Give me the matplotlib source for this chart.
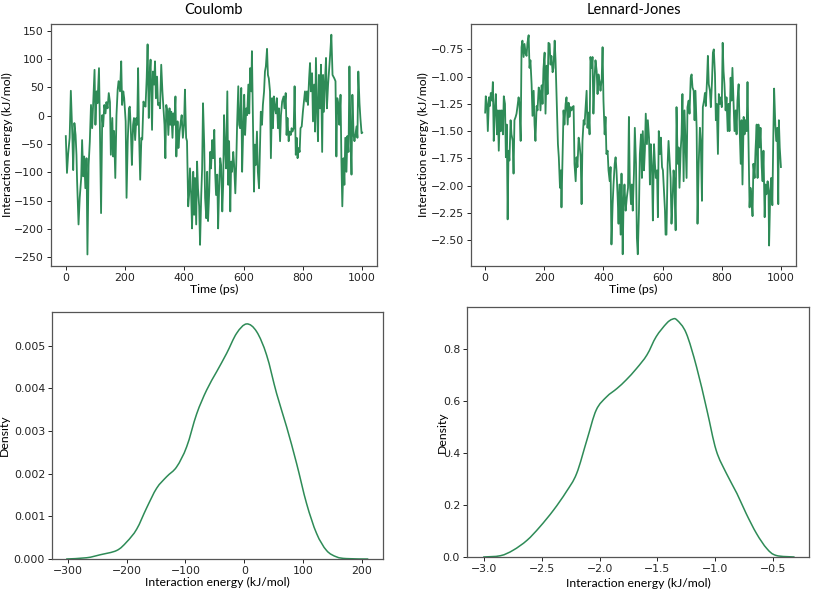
import matplotlib
matplotlib.use("Agg")
import matplotlib.pyplot as plt
from matplotlib.path import Path
from matplotlib.patches import PathPatch

# ---------------- data ----------------
coul_t = [0,4,8,13,17,22,25,29,33,36,38,43,47,52,55,59,62,66,70,73,77,81,85,89,92,97,100,104,107,112,115,119,123,126,130,134,137,141,145,149,152,157,160,163,167,171,175,178,183,187,190,194,197,202,205,209,213,216,220,223,227,230,234,238,241,
          244,247,251,255,258,262,266,269,273,276,280,283,286,291,294,298,301,304,308,311,315,318,322,326,329,333,336,339,343,346,350,353,356,360,363,366,370,373,377,380,384,388,391,395,399,402,406,409,413,416,419,423,426,430,433,436,440,443,446,450,453,457,460,463,467,470,474,477,
          480,484,487,490,494,497,501,504,507,511,514,517,521,524,528,531,534,538,541,545,548,551,555,558,561,565,568,572,575,578,582,585,588,592,595,599,602,605,609,612,616,619,622,626,628,631,635,638,641,645,648,652,655,658,662,665,669,672,675,679,682,685,689,692,696,699,702,706,709,712,716,719,723,726,
          730,735,738,742,745,748,752,755,759,762,765,769,772,776,779,782,786,789,792,796,800,804,807,811,814,817,821,824,827,831,834,838,841,844,848,851,854,858,861,865,868,871,875,878,881,885,888,892,896,900,903,906,910,913,916,920,923,927,930,933,937,940,943,947,950,954,957,960,964,967,971,974,977,981,984,987,991,994,998,1000]
coul_e = [-36,-101,-67,-39,44,-34,-96,-13,-34,-69,-113,-192,-145,-110,-43,-107,-72,-128,-75,-245,-87,-46,19,-22,16,81,-16,43,22,84,-16,-172,1,-19,19,4,24,13,40,24,-69,-4,-72,-27,-110,1,46,61,43,96,19,43,31,-10,-145,-45,13,16,-34,-87,-16,-4,-43,-4,-16,
          84,-28,-113,-39,-42,25,19,16,67,126,-4,72,99,-25,78,55,96,31,69,19,22,13,90,43,19,-16,-75,19,7,-34,13,-16,7,-39,4,-16,34,-72,-10,-57,-28,-10,1,-39,-16,46,-39,-45,-160,-140,-93,-140,-199,-99,-175,-110,-192,-81,-128,-160,-228,-140,-93,22,-51,-145,-181,-99,
          -186,-134,-64,-93,-43,-75,-25,-101,-140,-104,-199,-134,-75,-87,-169,-122,1,-64,-93,43,-122,-45,-169,-81,-99,-64,-87,-137,-87,-16,52,-16,-22,49,-99,-16,37,-34,13,1,55,4,84,43,114,7,-134,-51,-87,-28,-99,-128,-64,7,-16,19,43,78,87,118,72,66,43,-75,31,-22,34,13,4,31,-22,13,-45,1,
          25,34,13,40,-34,-4,-45,-28,-34,-22,-28,-22,52,-69,-39,-75,-57,-64,-22,-19,7,28,43,25,43,19,66,93,43,75,-10,55,-28,102,4,-45,72,13,90,-64,72,7,66,102,13,55,78,108,143,72,69,66,61,-72,31,19,-16,37,-81,-160,-75,-122,-39,-99,-36,-64,87,-16,-104,37,-34,-45,-34,-19,-39,78,22,-4,-31,-30]

lj_t = [0,2,6,9,13,16,19,23,26,29,33,36,40,43,46,50,53,56,60,63,67,70,73,76,79,82,86,89,93,96,99,103,106,109,113,116,120,123,126,130,133,137,140,143,147,150,153,157,160,164,167,170,174,177,181,184,187,191,194,197,201,204,208,211,214,218,221,224,228,231,235,238,
        242,246,249,253,256,258,262,265,268,272,275,279,282,285,289,292,295,299,302,306,309,312,316,319,323,326,329,333,336,339,343,346,350,353,356,360,363,366,370,373,377,380,383,387,390,394,397,400,404,407,410,414,417,421,424,427,431,434,438,441,444,448,451,454,458,461,465,468,471,475,
        479,483,486,489,493,496,499,503,506,510,513,516,520,523,527,530,533,537,540,543,547,550,554,557,560,564,567,571,574,577,581,584,587,591,594,598,601,604,608,610,613,617,620,623,627,630,634,637,640,644,647,651,654,657,661,664,667,671,674,678,681,684,688,691,695,698,701,705,708,711,715,718,722,
        726,729,733,736,740,743,746,750,753,756,760,763,767,770,773,777,780,783,787,790,794,797,800,803,806,809,813,816,820,823,826,830,833,836,840,843,847,850,853,857,860,864,867,870,874,877,880,884,887,891,894,897,901,904,907,911,914,918,921,924,928,931,935,938,941,945,948,951,955,958,960,964,967,971,974,977,981,984,988,991,993,996,1000]
lj_e = [-1.33,-1.18,-1.25,-1.50,-1.19,-1.27,-1.15,-1.22,-1.05,-1.59,-1.28,-1.16,-1.53,-1.31,-1.68,-1.31,-1.50,-1.31,-1.53,-1.18,-1.25,-1.74,-1.44,-2.31,-1.68,-1.77,-1.40,-1.53,-1.59,-1.89,-1.40,-1.37,-1.34,-1.28,-1.19,-1.25,-1.59,-0.73,-0.67,-0.82,-0.70,-0.79,-0.81,-0.69,-0.62,-0.92,-0.85,-1.07,-1.36,-1.13,-1.44,-1.59,-1.27,-1.31,-1.10,-1.13,-1.31,-1.08,-1.25,-0.93,-0.78,-1.34,-0.90,-1.16,-0.69,-0.70,-0.89,-0.81,-0.96,-0.92,-0.67,-0.85,
        -1.25,-1.62,-1.74,-2.02,-1.86,-2.20,-1.68,-1.31,-1.44,-1.25,-1.19,-1.44,-1.24,-1.37,-1.28,-1.31,-1.28,-1.27,-1.80,-1.96,-1.74,-1.83,-1.56,-1.62,-1.74,-2.17,-1.59,-1.40,-1.44,-1.31,-1.13,-1.47,-1.33,-1.53,-0.82,-0.92,-0.82,-1.34,-1.01,-0.85,-0.95,-1.16,-0.98,-1.05,-1.13,-1.02,-0.73,-1.22,-1.53,-1.37,-1.71,-1.68,-1.86,-1.96,-1.83,-2.54,-2.17,-1.99,-1.80,-1.74,-1.86,-2.11,-2.35,-1.99,-2.45,-1.89,-2.63,-2.14,-1.99,-2.23,
        -2.11,-2.02,-1.37,-1.96,-2.17,-1.99,-2.23,-1.89,-1.47,-1.80,-2.48,-2.63,-2.23,-1.71,-1.53,-1.93,-1.50,-1.86,-1.68,-1.34,-1.62,-1.40,-1.56,-1.99,-1.62,-1.83,-2.32,-1.62,-1.80,-1.93,-1.86,-2.29,-1.50,-1.71,-1.56,-1.83,-1.86,-2.02,-2.23,-2.45,-2.45,-1.80,-1.59,-1.74,-1.93,-2.35,-2.11,-1.86,-1.96,-2.41,-1.28,-1.80,-1.65,-2.02,-1.68,-1.53,-1.16,-1.96,-1.31,-1.65,-1.93,-1.28,-1.22,-1.34,-1.01,-0.98,-1.10,-1.13,-1.40,-1.13,-1.47,-2.35,-1.80,
        -1.47,-1.59,-2.14,-1.28,-1.22,-1.15,-1.27,-1.04,-0.81,-1.07,-1.13,-1.28,-1.04,-0.78,-0.75,-0.98,-1.40,-1.25,-1.71,-1.16,-1.25,-1.19,-1.28,-0.69,-0.95,-1.07,-1.31,-1.19,-1.50,-1.25,-1.50,-1.01,-1.22,-0.92,-1.25,-1.50,-1.31,-1.53,-1.22,-1.07,-1.44,-1.80,-1.40,-1.99,-1.37,-1.53,-1.40,-1.50,-1.05,-1.68,-2.20,-2.02,-2.11,-2.28,-1.80,-1.93,-1.68,-1.44,-1.93,-1.44,-1.65,-1.47,-1.83,-1.96,-1.68,-2.29,-1.99,-2.08,-1.96,-2.05,-2.55,-2.05,-1.93,-2.18,-1.59,-1.11,-1.44,-1.59,-1.47,-2.17,-1.40,-1.65,-1.83]

coul_kde_x = [-303,-268,-245,-217,-200,-183,-166,-149,-132,-115,-98,-81,-64,-47,-30,-13,4,21,38,55,72,89,106,123,140,157,174,211]
coul_kde_y = [0.0,0.00003,0.0001,0.0002,0.0004,0.0007,0.0012,0.00166,0.00193,0.00216,0.00263,0.0034,0.00396,0.00439,0.00482,0.00529,0.00551,0.00533,0.00478,0.00388,0.0031,0.00224,0.0013,0.0006,0.0002,0.00005,0.00001,0.0]

lj_kde_x = [-3.01,-2.86,-2.75,-2.63,-2.52,-2.40,-2.29,-2.20,-2.11,-2.03,-1.94,-1.85,-1.77,-1.68,-1.59,-1.51,-1.42,-1.37,-1.33,-1.25,-1.16,-1.07,-0.99,-0.90,-0.81,-0.73,-0.64,-0.55,-0.47,-0.31]
lj_kde_y = [0.0,0.005,0.026,0.064,0.115,0.18,0.25,0.32,0.45,0.564,0.615,0.647,0.68,0.724,0.776,0.846,0.897,0.913,0.91,0.86,0.73,0.564,0.41,0.32,0.244,0.167,0.09,0.032,0.006,0.0]

titles = ["Coulomb", "Lennard-Jones"]
time_label = "Time (ps)"
energy_label = "Interaction energy (kJ/mol)"
density_label = "Density"

# ---------------- helpers ----------------
GREEN = "#2e8b57"
LABEL_FONT = ["Lato", "DejaVu Sans"]


def smooth_curve(ax, xs, ys, **kw):
    """Draw a smooth (Catmull-Rom style Bezier) line through the read points."""
    verts = [(xs[0], ys[0])]
    codes = [Path.MOVETO]
    n = len(xs)
    for i in range(n - 1):
        x0, y0 = (xs[i - 1], ys[i - 1]) if i > 0 else (xs[i], ys[i])
        x1, y1 = xs[i], ys[i]
        x2, y2 = xs[i + 1], ys[i + 1]
        x3, y3 = (xs[i + 2], ys[i + 2]) if i + 2 < n else (xs[i + 1], ys[i + 1])
        c1 = (x1 + (x2 - x0) / 6.0, y1 + (y2 - y0) / 6.0)
        c2 = (x2 - (x3 - x1) / 6.0, y2 - (y3 - y1) / 6.0)
        verts += [c1, c2, (x2, y2)]
        codes += [Path.CURVE4, Path.CURVE4, Path.CURVE4]
    ax.add_patch(PathPatch(Path(verts, codes), facecolor="none", **kw))


# ---------------- figure ----------------
fig = plt.figure(figsize=(8.13, 5.93), dpi=100)

ax_tl = fig.add_axes([0.0627, 0.5514, 0.401, 0.408])
ax_tr = fig.add_axes([0.5793, 0.5514, 0.3998, 0.408])
ax_bl = fig.add_axes([0.064, 0.0573, 0.4071, 0.4166])
ax_br = fig.add_axes([0.5744, 0.0607, 0.4207, 0.4216])

for ax in (ax_tl, ax_tr, ax_bl, ax_br):
    for s in ax.spines.values():
        s.set_color("#555555")
        s.set_linewidth(0.9)
    ax.tick_params(labelsize=7.8, length=3, width=0.7, colors="#222222", pad=2)

ax_tl.plot(coul_t, coul_e, color=GREEN, lw=1.3)
ax_tl.set_xlim(-50, 1050)
ax_tl.set_ylim(-265.4, 161.8)
ax_tl.set_xticks([0, 200, 400, 600, 800, 1000])
ax_tl.set_yticks([-250, -200, -150, -100, -50, 0, 50, 100, 150])
ax_tl.set_xlabel(time_label, fontsize=8.8, family=LABEL_FONT, labelpad=1)
ax_tl.set_ylabel(energy_label, fontsize=8.8, family=LABEL_FONT, labelpad=1)
ax_tl.set_title(titles[0], fontsize=10.5, family=LABEL_FONT, pad=7)

ax_tr.plot(lj_t, lj_e, color=GREEN, lw=1.3)
ax_tr.set_xlim(-48, 1051)
ax_tr.set_ylim(-2.738, -0.518)
ax_tr.set_xticks([0, 200, 400, 600, 800, 1000])
ax_tr.set_yticks([-2.5, -2.25, -2.0, -1.75, -1.5, -1.25, -1.0, -0.75])
ax_tr.set_yticklabels(["\u22122.50", "\u22122.25", "\u22122.00", "\u22121.75", "\u22121.50", "\u22121.25", "\u22121.00", "\u22120.75"])
ax_tr.set_xlabel(time_label, fontsize=8.8, family=LABEL_FONT, labelpad=1)
ax_tr.set_ylabel(energy_label, fontsize=8.8, family=LABEL_FONT, labelpad=1)
ax_tr.set_title(titles[1], fontsize=10.5, family=LABEL_FONT, pad=7)

smooth_curve(ax_bl, coul_kde_x, coul_kde_y, edgecolor=GREEN, lw=1.1)
ax_bl.set_xlim(-327, 236)
ax_bl.set_ylim(0, 0.00579)
ax_bl.set_xticks([-300, -200, -100, 0, 100, 200])
ax_bl.set_yticks([0, 0.001, 0.002, 0.003, 0.004, 0.005])
ax_bl.set_yticklabels(["0.000", "0.001", "0.002", "0.003", "0.004", "0.005"])
ax_bl.set_xlabel(energy_label, fontsize=8.8, family=LABEL_FONT, labelpad=1)
ax_bl.set_ylabel(density_label, fontsize=8.8, family=LABEL_FONT, labelpad=3)

smooth_curve(ax_br, lj_kde_x, lj_kde_y, edgecolor=GREEN, lw=1.1)
ax_br.set_xlim(-3.15, -0.185)
ax_br.set_ylim(0, 0.96)
ax_br.set_xticks([-3.0, -2.5, -2.0, -1.5, -1.0, -0.5])
ax_br.set_yticks([0.0, 0.2, 0.4, 0.6, 0.8])
ax_br.set_xlabel(energy_label, fontsize=8.8, family=LABEL_FONT, labelpad=3)
ax_br.set_ylabel(density_label, fontsize=8.8, family=LABEL_FONT, labelpad=-4,
                 bbox=dict(facecolor="white", edgecolor="none", pad=0.5))

fig.savefig("out.png", dpi=100, facecolor="white")
